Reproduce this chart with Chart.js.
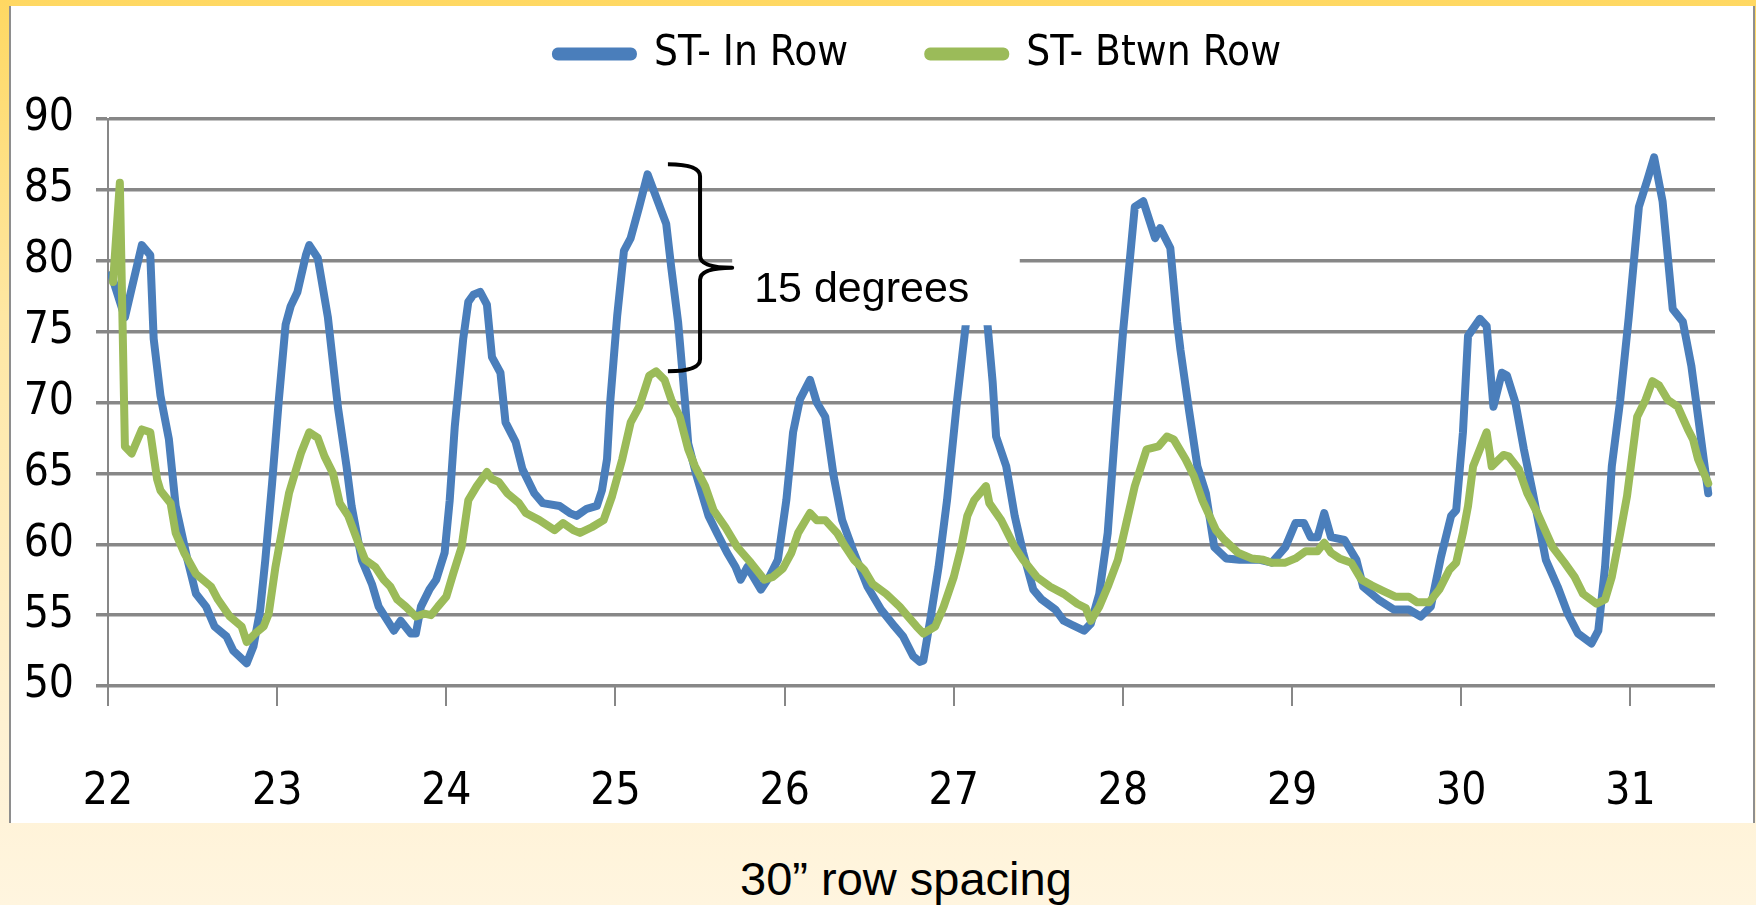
<!DOCTYPE html>
<html>
<head>
<meta charset="utf-8">
<title>Soil temperature - 30" row spacing</title>
<script src="https://cdn.jsdelivr.net/npm/chart.js@4.4.1/dist/chart.umd.min.js"></script>
<style>
    html, body { margin: 0; padding: 0; }
    body {
        position: relative;
        width: 1756px;
        height: 905px;
        overflow: hidden;
        background: linear-gradient(180deg, #ffd862 0%, #ffe7a3 35%, #fff1d2 80%, #fff5df 100%);
    }
    #frame {
        position: absolute;
        left: 9px;
        top: 6px;
        width: 1742px;
        height: 817px;
        background: #ffffff;
        border-left: 2px solid #8e8e8e;
        border-right: 2px solid #8e8e8e;
    }
    #caption {
        position: absolute;
        left: 740px;
        top: 855px;
        font: 47px/47px "Liberation Sans", Arial, sans-serif;
        color: #000;
        white-space: nowrap;
    }
</style>
</head>
<body>
<div id="frame"><canvas id="stChart"></canvas></div>
<div id="caption">30” row spacing</div>
<script>
// Soil temperature readings, x = day of month
const inRowDays = [22.02, 22.10, 22.20, 22.25, 22.27, 22.31, 22.36, 22.40, 22.47, 22.52, 22.58, 22.63, 22.70, 22.74, 22.82, 22.86, 22.90, 22.93, 22.97,
    23.01, 23.05, 23.08, 23.12, 23.17, 23.19, 23.24, 23.30, 23.36, 23.41, 23.44, 23.50, 23.56, 23.60, 23.69, 23.73, 23.79, 23.82, 23.85, 23.90, 23.94, 23.99,
    24.02, 24.05, 24.10, 24.13, 24.16, 24.20, 24.24, 24.27, 24.32, 24.35, 24.41, 24.45, 24.52, 24.57, 24.67, 24.73, 24.77, 24.83, 24.89, 24.92, 24.95, 24.97,
    25.01, 25.05, 25.09, 25.14, 25.19, 25.24, 25.30, 25.33, 25.37, 25.41, 25.43, 25.48, 25.55, 25.60, 25.66, 25.71, 25.74, 25.78, 25.86, 25.91, 25.96,
    26.01, 26.05, 26.09, 26.15, 26.19, 26.24, 26.29, 26.34, 26.41, 26.49, 26.57, 26.65, 26.70, 26.76, 26.80, 26.82, 26.86, 26.91, 26.96,
    27.02, 27.07, 27.12, 27.16, 27.20, 27.23, 27.25, 27.31, 27.36, 27.41, 27.47, 27.52, 27.60, 27.65, 27.70, 27.77, 27.81, 27.86, 27.91, 27.96,
    28.00, 28.07, 28.12, 28.19, 28.22, 28.28, 28.32, 28.34, 28.39, 28.44, 28.49, 28.54, 28.61, 28.69, 28.81, 28.88, 28.96,
    29.02, 29.07, 29.11, 29.15, 29.19, 29.23, 29.31, 29.38, 29.42, 29.51, 29.60, 29.69, 29.76, 29.82, 29.88, 29.94, 29.97,
    30.01, 30.04, 30.11, 30.15, 30.19, 30.24, 30.27, 30.32, 30.37, 30.42, 30.50, 30.57, 30.63, 30.69, 30.77, 30.81, 30.85, 30.89, 30.94, 30.99,
    31.05, 31.10, 31.14, 31.19, 31.25, 31.31, 31.36, 31.40, 31.46];
const inRowTemps = [79.0, 76.0, 81.1, 80.4, 74.5, 70.5, 67.4, 62.7, 58.9, 56.5, 55.6, 54.2, 53.5, 52.5, 51.6, 52.8, 55.4, 58.9, 64.3,
    70.2, 75.5, 76.8, 77.8, 80.4, 81.1, 80.2, 76.0, 69.6, 65.5, 62.7, 58.9, 57.2, 55.6, 53.9, 54.6, 53.7, 53.7, 55.6, 56.8, 57.5, 59.4,
    63.1, 68.3, 74.5, 77.1, 77.6, 77.8, 76.9, 73.2, 72.1, 68.6, 67.2, 65.3, 63.6, 62.9, 62.7, 62.2, 62.0, 62.5, 62.7, 63.8, 66.0, 70.2,
    76.1, 80.7, 81.6, 83.8, 86.1, 84.5, 82.6, 79.5, 75.7, 70.2, 67.1, 64.8, 62.0, 60.8, 59.4, 58.4, 57.5, 58.4, 56.8, 57.7, 58.9,
    63.1, 67.9, 70.2, 71.6, 70.0, 69.0, 64.8, 61.7, 59.4, 57.0, 55.4, 54.2, 53.5, 52.1, 51.7, 51.8, 54.6, 58.4, 63.1,
    70.2, 75.4, 79.5, 79.0, 75.4, 71.4, 67.6, 65.5, 62.0, 59.4, 56.8, 56.1, 55.4, 54.6, 54.3, 53.9, 54.4, 56.5, 60.8, 69.0,
    74.9, 83.8, 84.2, 81.6, 82.3, 80.9, 75.7, 73.7, 69.5, 65.5, 63.6, 59.8, 59.0, 58.9, 58.9, 58.7, 59.8,
    61.5, 61.5, 60.5, 60.5, 62.2, 60.5, 60.3, 58.9, 57.0, 56.1, 55.4, 55.4, 54.9, 55.6, 59.1, 62.0, 62.4,
    67.9, 74.7, 75.9, 75.4, 69.7, 72.1, 71.9, 70.0, 66.7, 63.8, 58.9, 57.0, 55.1, 53.7, 53.0, 53.9, 58.4, 65.5, 70.2, 76.0,
    83.8, 85.7, 87.3, 84.2, 76.6, 75.7, 72.6, 69.0, 63.6];

const btwnRowDays = [22.03, 22.07, 22.10, 22.14, 22.20, 22.25, 22.29, 22.31, 22.37, 22.40, 22.45, 22.52, 22.61, 22.65, 22.72, 22.79, 22.82, 22.87, 22.92, 22.95, 22.99,
    23.04, 23.07, 23.10, 23.14, 23.19, 23.24, 23.28, 23.33, 23.37, 23.42, 23.48, 23.52, 23.58, 23.63, 23.67, 23.71, 23.76, 23.82, 23.87, 23.91, 23.95,
    24.00, 24.04, 24.09, 24.13, 24.18, 24.24, 24.27, 24.31, 24.36, 24.43, 24.47, 24.55, 24.64, 24.69, 24.75, 24.79, 24.86, 24.93, 24.98,
    25.04, 25.09, 25.14, 25.20, 25.24, 25.29, 25.33, 25.38, 25.43, 25.47, 25.53, 25.58, 25.65, 25.72, 25.80, 25.88, 25.93, 25.99,
    26.04, 26.08, 26.15, 26.19, 26.24, 26.31, 26.36, 26.41, 26.47, 26.52, 26.60, 26.68, 26.73, 26.78, 26.82, 26.89, 26.94,
    27.00, 27.04, 27.08, 27.12, 27.19, 27.21, 27.28, 27.36, 27.41, 27.49, 27.57, 27.65, 27.73, 27.78, 27.81, 27.86, 27.91, 27.97,
    28.02, 28.07, 28.14, 28.21, 28.26, 28.30, 28.37, 28.42, 28.47, 28.55, 28.60, 28.68, 28.76, 28.83, 28.88, 28.96,
    29.02, 29.08, 29.15, 29.19, 29.23, 29.28, 29.35, 29.41, 29.47, 29.54, 29.61, 29.69, 29.74, 29.81, 29.87, 29.93, 29.97,
    30.01, 30.04, 30.07, 30.11, 30.15, 30.18, 30.25, 30.28, 30.34, 30.39, 30.45, 30.54, 30.61, 30.67, 30.72, 30.80, 30.85, 30.89, 30.94, 30.98,
    31.04, 31.09, 31.13, 31.17, 31.22, 31.28, 31.34, 31.37, 31.40, 31.46];
const btwnRowTemps = [78.5, 85.5, 66.9, 66.4, 68.1, 67.9, 64.6, 63.8, 62.9, 60.8, 59.4, 57.9, 57.0, 56.1, 54.9, 54.2, 53.1, 53.7, 54.2, 55.1, 58.4,
    61.7, 63.6, 64.8, 66.4, 67.9, 67.5, 66.2, 65.0, 62.9, 62.0, 60.1, 58.9, 58.4, 57.5, 57.0, 56.1, 55.6, 54.9, 55.1, 55.0, 55.6,
    56.3, 57.9, 59.8, 63.1, 64.1, 65.1, 64.6, 64.4, 63.6, 62.9, 62.2, 61.7, 61.0, 61.5, 61.0, 60.8, 61.2, 61.7, 63.4,
    66.0, 68.6, 69.7, 71.9, 72.2, 71.6, 70.2, 69.0, 66.7, 65.5, 64.1, 62.4, 61.2, 59.8, 58.7, 57.5, 57.7, 58.3,
    59.4, 60.8, 62.2, 61.7, 61.7, 60.8, 59.8, 58.9, 58.2, 57.2, 56.5, 55.6, 54.9, 54.2, 53.7, 54.2, 55.6,
    57.7, 59.6, 62.0, 63.1, 64.1, 62.9, 61.7, 59.8, 58.9, 57.7, 57.0, 56.5, 55.8, 55.5, 54.6, 55.6, 57.0, 58.9,
    61.5, 64.1, 66.7, 66.9, 67.6, 67.4, 66.0, 64.8, 63.1, 61.0, 60.3, 59.4, 59.0, 58.9, 58.7, 58.7,
    59.0, 59.5, 59.5, 60.1, 59.4, 59.0, 58.7, 57.5, 57.1, 56.7, 56.3, 56.3, 55.9, 55.9, 56.8, 58.2, 58.7,
    60.8, 62.7, 65.5, 66.7, 67.9, 65.5, 66.3, 66.2, 65.3, 63.6, 62.2, 59.8, 58.7, 57.7, 56.5, 55.8, 56.1, 57.7, 60.8, 63.4,
    69.0, 70.2, 71.5, 71.2, 70.2, 69.7, 68.1, 67.4, 66.0, 64.3];

// Axis tick values
const xTicks = [22, 23, 24, 25, 26, 27, 28, 29, 30, 31];
const yTicks = [50, 55, 60, 65, 70, 75, 80, 85, 90];

// "15 degrees" note, placed in data units (day, temperature)
const braceDays = [25.31, 25.50, 25.69];     // arm ends, spine, tip
const braceTemps = [86.8, 79.5, 72.2];       // top, middle, bottom
const noteBox = { x0: 25.69, x1: 27.39, yTop: 81.2, yBottom: 75.45 };
const noteText = { x: 25.82, y: 77.1, text: '15 degrees' };

const narrowFont = "'DejaVu Sans Condensed', 'Liberation Sans Narrow', sans-serif";
const gridGrey = '#878787';

function toPoints(days, temps) {
    return days.map((d, i) => ({ x: d, y: temps[i] }));
}

// Leave room between the legend and the plot, and nudge the legend right as in the slide
const legendGap = {
    id: 'legendGap',
    beforeInit(chart) {
        const fit = chart.legend.fit;
        chart.legend.fit = function () {
            fit.bind(chart.legend)();
            this.height += 34;
        };
    },
    afterLayout(chart) {
        chart.legend.left += 53;
        chart.legend.right += 53;
    }
};

// White label box, curly brace and "15 degrees" text
const degreeNote = {
    id: 'degreeNote',
    afterDatasetsDraw(chart) {
        const ctx = chart.ctx;
        const xs = chart.scales.x;
        const ys = chart.scales.y;

        const bx0 = xs.getPixelForValue(noteBox.x0);
        const bx1 = xs.getPixelForValue(noteBox.x1);
        const by0 = ys.getPixelForValue(noteBox.yTop);
        const by1 = ys.getPixelForValue(noteBox.yBottom);

        const left = xs.getPixelForValue(braceDays[0]);
        const spine = xs.getPixelForValue(braceDays[1]);
        const tip = xs.getPixelForValue(braceDays[2]);
        const top = ys.getPixelForValue(braceTemps[0]);
        const mid = ys.getPixelForValue(braceTemps[1]);
        const bottom = ys.getPixelForValue(braceTemps[2]);
        const r = 12;

        ctx.save();
        ctx.fillStyle = '#ffffff';
        ctx.fillRect(bx0, by0, bx1 - bx0, by1 - by0);

        ctx.strokeStyle = '#000000';
        ctx.lineWidth = 4;
        ctx.lineJoin = 'round';
        ctx.beginPath();
        ctx.moveTo(left, top);
        ctx.quadraticCurveTo(spine, top, spine, top + r);
        ctx.lineTo(spine, mid - r);
        ctx.quadraticCurveTo(spine, mid, tip, mid);
        ctx.quadraticCurveTo(spine, mid, spine, mid + r);
        ctx.lineTo(spine, bottom - r);
        ctx.quadraticCurveTo(spine, bottom, left, bottom);
        ctx.stroke();

        ctx.fillStyle = '#000000';
        ctx.font = '43px "Liberation Sans", Arial, sans-serif';
        ctx.textBaseline = 'alphabetic';
        ctx.textAlign = 'left';
        ctx.fillText(noteText.text, xs.getPixelForValue(noteText.x), ys.getPixelForValue(noteText.y));
        ctx.restore();
    }
};

new Chart(document.getElementById('stChart'), {
    type: 'line',
    data: {
        datasets: [
            {
                label: 'ST- In Row',
                data: toPoints(inRowDays, inRowTemps),
                borderColor: '#4a7ebb',
                backgroundColor: '#4a7ebb',
                borderWidth: 8,
                borderJoinStyle: 'round',
                borderCapStyle: 'round',
                pointRadius: 0,
                order: 1
            },
            {
                label: 'ST- Btwn Row',
                data: toPoints(btwnRowDays, btwnRowTemps),
                borderColor: '#9bbb59',
                backgroundColor: '#9bbb59',
                borderWidth: 8,
                borderJoinStyle: 'round',
                borderCapStyle: 'round',
                pointRadius: 0,
                order: 0
            }
        ]
    },
    options: {
        responsive: true,
        maintainAspectRatio: false,
        animation: false,
        events: [],
        layout: {
            padding: { top: -53, left: 5, right: 38, bottom: 0 }
        },
        plugins: {
            legend: {
                position: 'top',
                labels: {
                    font: { family: narrowFont, size: 42 },
                    color: '#000000',
                    boxWidth: 77,
                    boxHeight: 5,
                    useBorderRadius: true,
                    borderRadius: 2,
                    padding: 80,
                    sort: (a, b) => a.datasetIndex - b.datasetIndex
                }
            },
            tooltip: { enabled: false }
        },
        scales: {
            x: {
                type: 'linear',
                min: 22,
                max: 31.5,
                afterBuildTicks: (scale) => {
                    scale.ticks = xTicks.map(v => ({ value: v }));
                },
                afterFit: (scale) => {
                    scale.height = 137;
                    scale.paddingLeft = 0;
                    scale.paddingRight = 0;
                },
                grid: {
                    drawOnChartArea: false,
                    tickLength: 20,
                    color: gridGrey,
                    lineWidth: 2
                },
                border: { display: false },
                ticks: {
                    font: { family: narrowFont, size: 44 },
                    color: '#000000',
                    padding: 60,
                    maxRotation: 0,
                    autoSkip: false
                }
            },
            y: {
                min: 50,
                max: 90,
                afterBuildTicks: (scale) => {
                    scale.ticks = yTicks.map(v => ({ value: v }));
                },
                afterFit: (scale) => {
                    scale.width = 92;
                },
                grid: {
                    tickLength: 12,
                    color: gridGrey,
                    lineWidth: 3.5
                },
                border: { color: gridGrey, width: 2 },
                ticks: {
                    font: { family: narrowFont, size: 44 },
                    color: '#000000',
                    padding: 22
                }
            }
        }
    },
    plugins: [legendGap, degreeNote]
});
</script>
</body>
</html>
